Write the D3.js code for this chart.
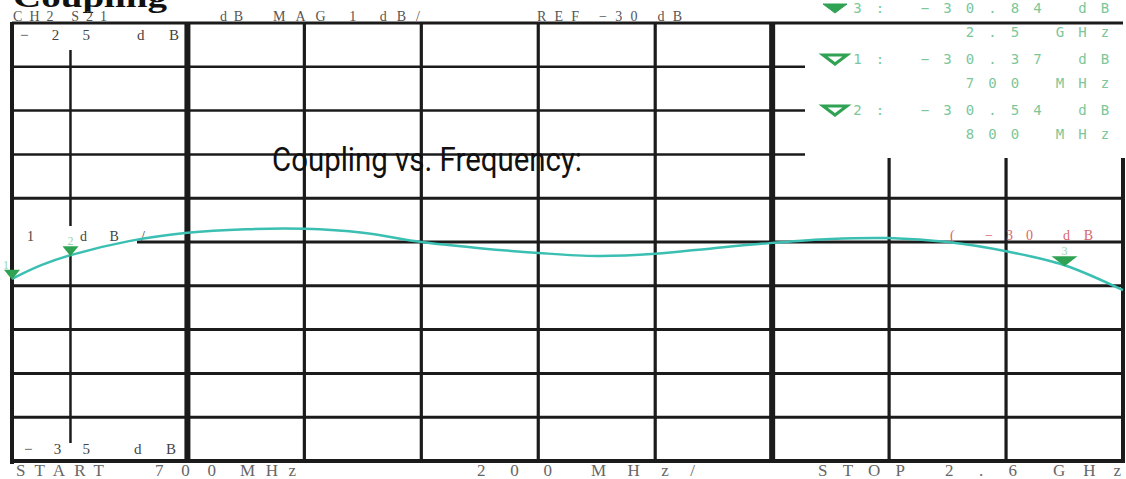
<!DOCTYPE html>
<html>
<head>
<meta charset="utf-8">
<script src="https://cdn.jsdelivr.net/npm/d3@7"></script>
<style>
  html, body { margin: 0; padding: 0; background: #fff; }
  svg { display: block; }
  text { white-space: pre; }
</style>
</head>
<body>
<div id="chart"></div>
<script>
// S21 trace (MHz, dB)
var freqMHz = [700, 750, 800, 900, 1000, 1100, 1200, 1300, 1400, 1500, 1600,
               1700, 1800, 1900, 2000, 2100, 2200, 2300, 2400, 2500, 2600];
var couplingDb = [-30.84, -30.53, -30.30, -29.98, -29.79, -29.71, -29.70, -29.79, -30.00, -30.14, -30.25,
                  -30.32, -30.27, -30.14, -30.02, -29.93, -29.91, -30.00, -30.21, -30.53, -31.10];

// markers
var markerIds = ["1", "2", "3"];
var markerFreqMHz = [700, 800, 2500];
var markerDb = ["-30.37", "-30.54", "-30.84"];
var markerFreqText = ["700 MHz", "800 MHz", "2.5 GHz"];

// graticule
var vGridMHz = [1000, 1200, 1400, 1600, 1800, 2000, 2200, 2400];
var vGridThick = [1000, 2000];
var hGridDb = [-26, -27, -28, -29, -30, -31, -32, -33, -34];

var width = 1126, height = 479;
var svg = d3.select("#chart").append("svg")
  .attr("width", width)
  .attr("height", height);

var x = d3.scaleLinear().domain([700, 2600]).range([12, 1123]);
var y = d3.scaleLinear().domain([-35, -25]).range([461, 23]);

var ink = "#1b1b1b";

function line(x1, y1, x2, y2, w) {
  svg.append("line")
    .attr("x1", x1).attr("y1", y1).attr("x2", x2).attr("y2", y2)
    .attr("stroke", ink).attr("stroke-width", w);
}

// horizontal graticule, some lines hidden by the readout box / scale label
hGridDb.forEach(function (d) {
  var x1 = x(700), x2 = x(2600);
  if (d >= -28) x2 = 805;
  if (d === -30) x1 = 137;
  line(x1, y(d), x2, y(d), d >= -28 ? 2.5 : 3);
});

// vertical graticule
vGridMHz.forEach(function (f) {
  var y1 = y(-25);
  if (f >= 2200) y1 = 158;
  line(x(f), y1, x(f), y(-35), vGridThick.indexOf(f) >= 0 ? 6 : 3.2);
});

// frame
line(x(700), y(-25), x(2600), y(-25), 3);
line(x(700), y(-35), x(2600), y(-35), 4);
line(x(700), y(-25) - 1, x(700), y(-35) + 3, 4);
line(x(2600), 158, x(2600), y(-35) + 2, 4);

// marker 2 stimulus line
line(x(800), 50, x(800), 226, 2.5);
line(x(800), 254, x(800), 443, 2.5);

function txt(s, x0, x1, yy, size, fill, family, adjust, weight) {
  svg.append("text")
    .attr("x", x0).attr("y", yy)
    .attr("textLength", x1 - x0)
    .attr("lengthAdjust", adjust || "spacing")
    .attr("font-family", family || "Liberation Serif")
    .attr("font-size", size)
    .attr("font-weight", weight || "normal")
    .attr("fill", fill)
    .text(s);
}

var grey = "#555";
// title cut at the top
txt("Coupling", 13, 167, 7, 30, "#111", "Liberation Serif", "spacingAndGlyphs", "bold");

// header line
txt("CH2 S21", 13, 107, 21, 14, grey);
txt("dB", 220, 243, 21, 14, grey);
txt("MAG 1 dB/", 273, 420, 21, 14, grey);
txt("REF \u221230 dB", 537, 682, 21, 14, grey);

// scale labels inside the graticule
txt("\u221225", 20, 90, 40, 15, "#444");
txt("dB", 137, 179, 40, 15, "#444");
txt("\u221235", 24, 90, 454, 15, "#444");
txt("dB", 134, 176, 454, 15, "#444");
txt("1", 27, 39, 241, 14, "#444");
txt("dB/", 80, 145, 241, 14, "#444");

// bottom stimulus labels
var lg = "#666";
txt("START", 16, 104, 476, 17, lg);
txt("700", 155, 216, 476, 17, lg);
txt("MHz", 240, 296, 476, 17, lg);
txt("200", 477, 552, 476, 17, lg);
txt("MHz/", 591, 695, 476, 17, lg);
txt("STOP", 818, 905, 476, 17, lg);
txt("2.6", 945, 1017, 476, 17, lg);
txt("GHz", 1053, 1121, 476, 17, lg);

// reference level label
var red = "#d9666a";
txt("(", 950, 957, 240, 14, red);
txt("\u221230", 985, 1033, 240, 14, red);
txt("dB", 1063, 1093, 240, 14, red);

// caption over the plot
txt("Coupling vs. Frequency:", 272, 582, 171, 33, "#111", "Roboto", "spacingAndGlyphs");

// marker readout block (fixed pitch, right aligned)
var green = "#7cc79a", greenDark = "#2fa253";
function mono(s, yy) {
  var pitch = 22.5, lastC = 1105, n = s.length;
  var xs = s.split("").map(function (c, i) { return lastC - (n - 1 - i) * pitch; });
  svg.append("text")
    .attr("x", xs.join(" "))
    .attr("y", yy)
    .attr("text-anchor", "middle")
    .attr("font-family", "DejaVu Sans Mono")
    .attr("font-size", 14)
    .attr("fill", green)
    .text(s);
}
var order = [2, 0, 1];
order.forEach(function (m, r) {
  var base = 13 + r * 51;
  var tri = "M823," + (base - 9) + "L847," + (base - 9) + "L835," + (base) + "Z";
  svg.append("path").attr("d", tri)
    .attr("fill", r === 0 ? greenDark : "none")
    .attr("stroke", greenDark)
    .attr("stroke-width", r === 0 ? 1 : 3);
  mono(markerIds[m] + ": \u2212" + markerDb[m].slice(1) + " dB", base);
  mono(markerFreqText[m], base + 24);
});

// trace
var trace = d3.line()
  .x(function (d, i) { return x(freqMHz[i]); })
  .y(function (d) { return y(d); })
  .curve(d3.curveCatmullRom.alpha(0.5));

svg.append("path")
  .datum(couplingDb)
  .attr("d", trace)
  .attr("fill", "none")
  .attr("stroke", "#3bbfb2")
  .attr("stroke-width", 2.5);

// marker triangles sit on the trace
var interp = d3.scaleLinear().domain(freqMHz).range(couplingDb);
markerFreqMHz.forEach(function (f, i) {
  var cx = x(f), cy = y(interp(f)) + 1;
  var hw = i === 2 ? 13 : 8;
  svg.append("path")
    .attr("d", "M" + (cx - hw) + "," + (cy - 10) + "L" + (cx + hw) + "," + (cy - 10) + "L" + cx + "," + cy + "Z")
    .attr("fill", greenDark);
  svg.append("text")
    .attr("x", i === 0 ? cx - 6 : cx)
    .attr("y", cy - 11)
    .attr("text-anchor", "middle")
    .attr("font-family", "Liberation Serif")
    .attr("font-size", 12)
    .attr("fill", "#9ad4ac")
    .text(markerIds[i]);
});
</script>
</body>
</html>
